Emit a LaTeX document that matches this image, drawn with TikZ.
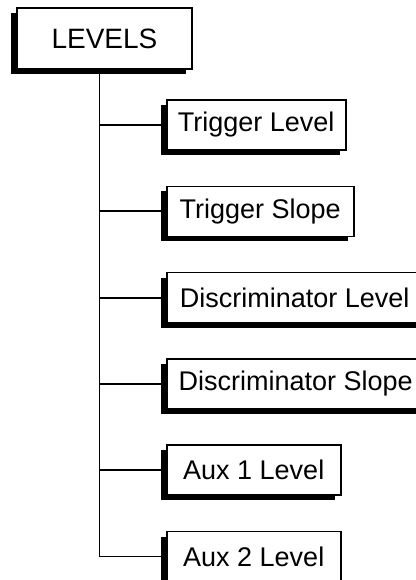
\documentclass[tikz,border=0pt]{standalone}
\usepackage{fontspec}
\setmainfont{Liberation Sans}
\usetikzlibrary{positioning,shadows}

\begin{document}
\begin{tikzpicture}[node distance=34.8pt, line width=1.8pt,
    menubox/.style={draw, line width=1.5pt, fill=white, minimum height=50pt,
      inner xsep=0pt, font=\fontsize{27}{31}\selectfont,
      drop shadow={shadow xshift=-6pt, shadow yshift=-5pt, opacity=1, fill=black}}]
\useasboundingbox (0,0) rectangle (415pt,-580pt);

\node[menubox, minimum width=175pt, minimum height=61pt, font=\fontsize{28}{32}\selectfont] (root) at (104.5pt,-38.5pt) {LEVELS};
\node[menubox, minimum width=179pt, anchor=west] (N1) at (166pt,-125pt) {Trigger Level};
\node[menubox, minimum width=187pt] (N2) [below=of N1.south west, anchor=north west] {Trigger Slope};
\node[menubox, minimum width=256pt] (N3) [below=of N2.south west, anchor=north west] {Discriminator Level};
\node[menubox, minimum width=258pt] (N4) [below=of N3.south west, anchor=north west] {Discriminator Slope};
\node[menubox, minimum width=174pt] (N5) [below=of N4.south west, anchor=north west] {Aux 1 Level};
\node[menubox, minimum width=174pt] (N6) [below=of N5.south west, anchor=north west] {Aux 2 Level};

\draw ([xshift=-5pt]root.south) coordinate (trunk) |- (N6.west);
\foreach \n in {N1,N2,N3,N4,N5}
  \draw (trunk |- \n) -- (\n.west);
\end{tikzpicture}
\end{document}
